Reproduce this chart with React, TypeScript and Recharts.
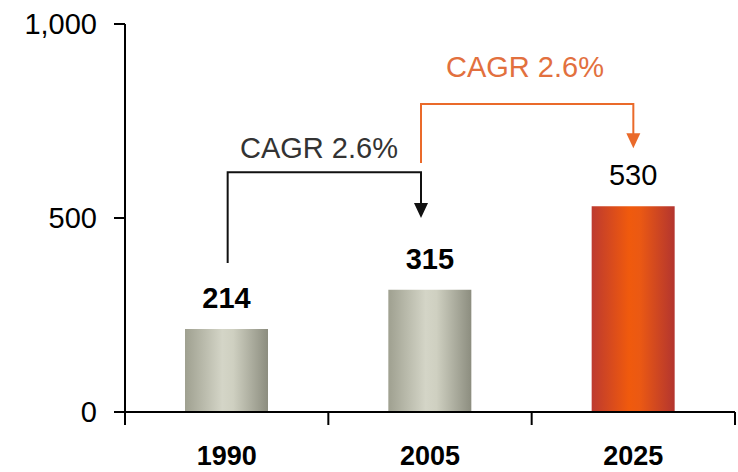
import React from 'react';
import { BarChart, Bar, XAxis, YAxis, Cell, LabelList, Customized } from 'recharts';

const years = ['1990', '2005', '2025'];
const values = [214, 315, 530];
const yTicks = [0, 500, 1000];
const cagrLabels = ['CAGR 2.6%', 'CAGR 2.6%'];

const data = years.map((year, i) => ({ year, value: values[i] }));

// layout
const W = 738;
const H = 472;
const Y_AXIS_W = 125;
const X_AXIS_H = 60;
const MARGIN = { top: 24, right: 3, bottom: 0, left: 0 };
const PLOT_LEFT = MARGIN.left + Y_AXIS_W;
const PLOT_RIGHT = W - MARGIN.right;
const PLOT_TOP = MARGIN.top;
const PLOT_BOTTOM = H - MARGIN.bottom - X_AXIS_H;
const BAND = (PLOT_RIGHT - PLOT_LEFT) / years.length;
const Y_MAX = 1000;

const FONT = "'Liberation Sans', Arial, sans-serif";

const xPx = (i: number) => PLOT_LEFT + (i + 0.5) * BAND;
const yPx = (v: number) => PLOT_BOTTOM - (v / Y_MAX) * (PLOT_BOTTOM - PLOT_TOP);

const XTick = (props: any) => {
    const { x, payload, index } = props;
    const left = x - BAND / 2;
    const right = x + BAND / 2;
    return (
        <g>
            <line x1={left} y1={PLOT_BOTTOM} x2={left} y2={PLOT_BOTTOM + 13} stroke="#000" strokeWidth={2} />
            {index === years.length - 1 && (
                <line x1={right} y1={PLOT_BOTTOM} x2={right} y2={PLOT_BOTTOM + 13} stroke="#000" strokeWidth={2} />
            )}
            <text x={x} y={PLOT_BOTTOM + 53} textAnchor="middle" fontFamily={FONT} fontSize={27} fontWeight="bold" fill="#000">
                {payload.value}
            </text>
        </g>
    );
};

const BarValue = (props: any) => {
    const { x, y, width, value, index } = props;
    return (
        <text x={x + width / 2} y={y - 21} textAnchor="middle" fontFamily={FONT} fontSize={29}
            fontWeight={index < 2 ? 'bold' : 'normal'} fill="#000">
            {value}
        </text>
    );
};

const Bracket = ({ x1, x2, yStart, yLevel, yEnd, color, textColor, label, labelY, labelX }: any) => {
    const tip = yPx(yEnd);
    return (
        <g>
            <path
                d={`M${x1},${yPx(yStart)} L${x1},${yPx(yLevel)} L${x2},${yPx(yLevel)} L${x2},${tip - 14}`}
                fill="none" stroke={color} strokeWidth={2}
            />
            <path d={`M${x2 - 7},${tip - 15} L${x2 + 7},${tip - 15} L${x2},${tip} Z`} fill={color} />
            <text x={labelX} y={labelY} textAnchor="middle" fontFamily={FONT} fontSize={29} fill={textColor}>
                {label}
            </text>
        </g>
    );
};

const Annotations = () => (
    <g>
        <Bracket x1={xPx(0) + 1} x2={xPx(1) - 9} yStart={384} yLevel={618} yEnd={500}
            color="#111" textColor="#333" label={cagrLabels[0]} labelX={319} labelY={158} />
        <Bracket x1={xPx(1) - 9} x2={xPx(2)} yStart={642} yLevel={794} yEnd={680}
            color="#EA6A2A" textColor="#E2703E" label={cagrLabels[1]} labelX={525} labelY={77} />
    </g>
);

export default function App() {
    return (
        <div style={{ position: 'absolute', left: 0, top: 0, background: '#fff' }}>
            <BarChart width={W} height={H} data={data} margin={MARGIN}>
                <defs>
                    <linearGradient id="grayBar" x1="0" y1="0" x2="1" y2="0">
                        <stop offset="0%" stopColor="#9fa090" />
                        <stop offset="45%" stopColor="#d4d5c7" />
                        <stop offset="58%" stopColor="#cfd0c1" />
                        <stop offset="100%" stopColor="#8c8d7f" />
                    </linearGradient>
                    <linearGradient id="orangeBar" x1="0" y1="0" x2="1" y2="0">
                        <stop offset="0%" stopColor="#bd3a2f" />
                        <stop offset="45%" stopColor="#f05a0d" />
                        <stop offset="58%" stopColor="#eb5913" />
                        <stop offset="100%" stopColor="#b3352f" />
                    </linearGradient>
                </defs>
                <XAxis
                    dataKey="year"
                    height={X_AXIS_H}
                    axisLine={{ stroke: '#000', strokeWidth: 2 }}
                    tickLine={false}
                    tick={<XTick />}
                    interval={0}
                />
                <YAxis
                    width={Y_AXIS_W}
                    domain={[0, Y_MAX]}
                    ticks={yTicks}
                    tickFormatter={(v: number) => v.toLocaleString('en-US')}
                    axisLine={{ stroke: '#000', strokeWidth: 2 }}
                    tickLine={{ stroke: '#000', strokeWidth: 2 }}
                    tickSize={11}
                    tickMargin={17}
                    tick={{ fontFamily: FONT, fontSize: 29, fill: '#000' }}
                />
                <Bar dataKey="value" barSize={83} isAnimationActive={false}>
                    {data.map((d, i) => (
                        <Cell key={d.year} fill={i === years.length - 1 ? 'url(#orangeBar)' : 'url(#grayBar)'} />
                    ))}
                    <LabelList dataKey="value" content={<BarValue />} />
                </Bar>
                <Customized component={<Annotations />} />
            </BarChart>
        </div>
    );
}
